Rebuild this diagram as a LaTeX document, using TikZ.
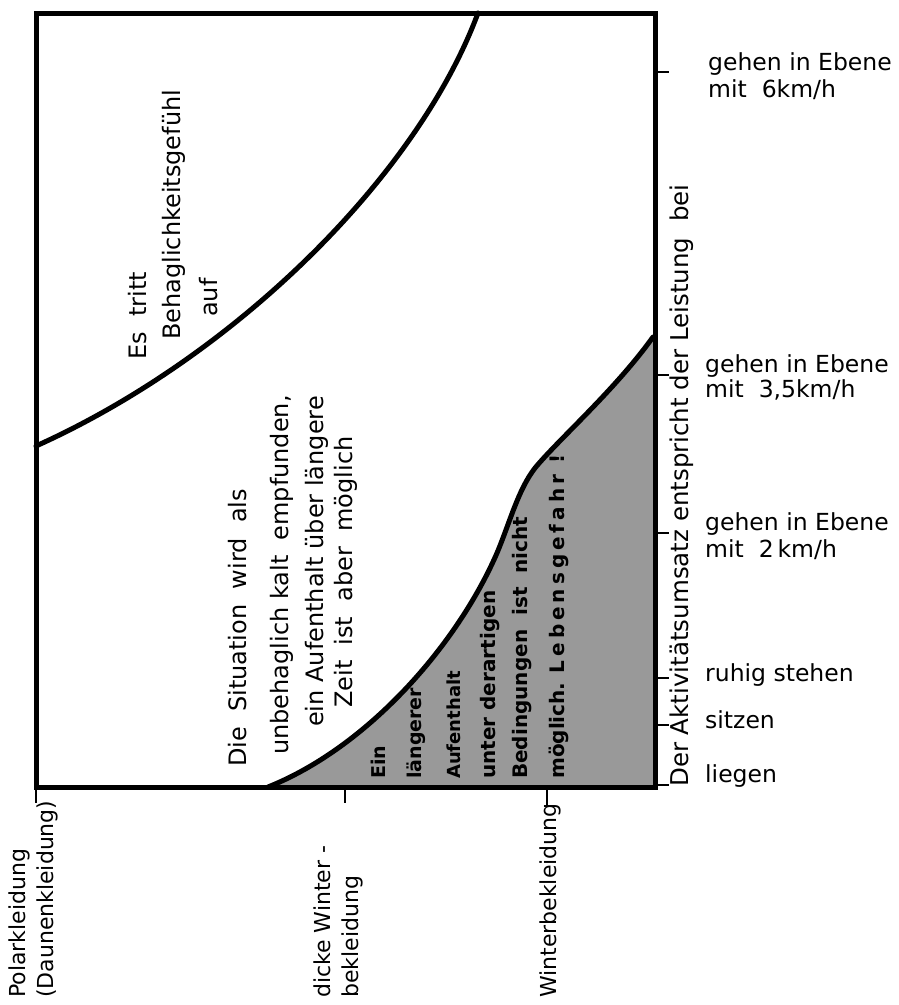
\documentclass[tikz,border=0pt]{standalone}
\usepackage{fontspec}
\setmainfont{DejaVu Sans}
\begin{document}
\begin{tikzpicture}[x=1pt,y=-1pt,
  frame/.style={line width=5pt, line join=miter},
  curve/.style={line width=5pt, line cap=round},
  tickline/.style={line width=1.6pt},
  rlabel/.style={inner sep=0pt, anchor=base west, font=\fontsize{23.5}{27}\selectfont},
  vtext/.style={inner sep=0pt, anchor=base west, rotate=90, font=\fontsize{24}{28}\selectfont},
  ttext/.style={inner sep=0pt, anchor=base west, rotate=90, font=\fontsize{24.5}{28}\selectfont},
  btext/.style={inner sep=0pt, anchor=base west, rotate=90, font=\fontsize{22}{26}\selectfont},
  stext/.style={inner sep=0pt, anchor=base west, rotate=90, font=\fontsize{20}{24}\selectfont\bfseries},
  shadearea/.style={fill=black!40}
]
\useasboundingbox (0,0) rectangle (898,1005);

% curve anchor points
\coordinate (lo0) at (268,787);
\coordinate (lo1) at (497,553);
\coordinate (lo2) at (535,468);
\coordinate (lo3) at (653,337);
\coordinate (up0) at (36,446);
\coordinate (up1) at (478,13);

% shaded region (danger zone)
\fill[shadearea] (lo0) .. controls (368,747) and (457,645) .. (lo1)
  .. controls (510,522) and (518,490) .. (lo2)
  .. controls (558,440) and (615,390) .. (lo3) -- (655,787) -- cycle;

% boundary curves
\draw[curve] (lo0) .. controls (368,747) and (457,645) .. (lo1)
  .. controls (510,522) and (518,490) .. (lo2)
  .. controls (558,440) and (615,390) .. (lo3);
\draw[curve] (up0) .. controls (236,356) and (418,175) .. (up1);

% frame
\draw[frame] (36,13) rectangle (655,787);

% ticks on right axis
\coordinate (t6) at (655,72);
\coordinate (t35) at (655,375);
\coordinate (t2) at (655,533);
\coordinate (tst) at (655,678);
\coordinate (tsi) at (655,725);
\coordinate (tli) at (655,785);
\foreach \c in {t6,t35,t2,tst,tsi,tli} \draw[tickline] (\c) -- ++(14,0);

% ticks on bottom axis
\coordinate (bp) at (36,787);
\coordinate (bd) at (345,787);
\coordinate (bw) at (547,787);
\draw[tickline] (bp) -- ++(0,16);
\draw[tickline] (bd) -- ++(0,16);
\draw[tickline] (bw) -- ++(0,20);

% right labels
\node[rlabel] (r6a) at (708,70) {gehen in Ebene};
\node[rlabel] (r6b) at (708,97) {mit~~6km/h};
\node[rlabel] (r35a) at (705,372) {gehen in Ebene};
\node[rlabel] (r35b) at (705,397) {mit~~3,5km/h};
\node[rlabel] (r2a) at (705,530) {gehen in Ebene};
\node[rlabel] (r2b) at (705,557) {mit~~2\,km/h};
\node[rlabel] (rst) at (705,681) {ruhig stehen};
\node[rlabel] (rsi) at (705,728) {sitzen};
\node[rlabel] (rli) at (705,782) {liegen};

% right axis title
\node[ttext] (title) at (688,787) {Der Aktivitätsumsatz entspricht der Leistung~~bei};

% comfort region text
\node[vtext] (es) at (146,360) {Es~~tritt};
\node[vtext] (beh) at (180,340) {Behaglichkeitsgefühl};
\node[vtext] (auf) at (217,317) {auf};

% cold region text
\node[vtext] (sit1) at (246,767) {Die~~Situation~~wird~~als};
\node[vtext] (sit2) at (288,755) {unbehaglich kalt~~empfunden,};
\node[vtext] (sit3) at (323,727) {ein Aufenthalt über längere};
\node[vtext] (sit4) at (352,708) {Zeit~~ist~~aber~~möglich};

% danger region text
\node[stext, font=\fontsize{19}{22}\selectfont\bfseries] (s1) at (385,779) {Ein};
\node[stext, font=\fontsize{19}{22}\selectfont\bfseries] (s2) at (421,779) {längerer};
\node[stext, font=\fontsize{18}{22}\selectfont\bfseries] (s3) at (460,779) {Aufenthalt};
\node[stext] (s4) at (495,779) {unter derartigen};
\node[stext] (s5) at (527,779) {Bedingungen~~ist~~nicht};
\node[stext] (s6) at (564,779) {möglich. {\addfontfeature{LetterSpace=20}Lebensgefahr !}};

% bottom labels
\node[btext] (b1) at (25,998) {Polarkleidung};
\node[btext] (b2) at (53,998) {(Daunenkleidung)};
\node[btext] (b3) at (330,998) {dicke Winter -};
\node[btext] (b4) at (358,998) {bekleidung};
\node[btext] (b5) at (556,998) {Winterbekleidung};
\end{tikzpicture}
\end{document}
